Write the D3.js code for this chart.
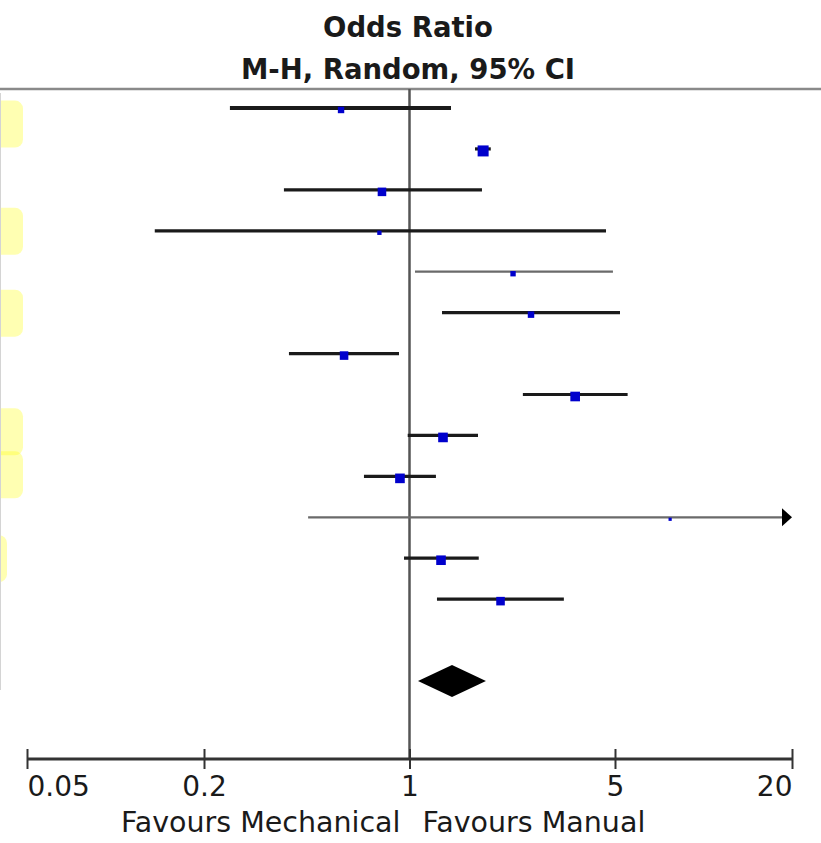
<!DOCTYPE html>
<html>
<head>
<meta charset="utf-8">
<script src="https://cdn.jsdelivr.net/npm/d3@7"></script>
<style>
  html, body { margin: 0; padding: 0; background: #fff; }
  svg { display: block; }
  text { font-family: "DejaVu Sans", Verdana, sans-serif; fill: #1a1a1a; }
</style>
</head>
<body>
<svg id="forest" width="821" height="843"></svg>
<script>
// study rows (odds ratio, 95% CI, weight %)
const orValues = [0.585, 1.78, 0.806, 0.79, 2.25, 2.59, 0.599, 3.66, 1.30, 0.928, 7.7, 1.28, 2.04];
const ciLower  = [0.245, 1.67, 0.374, 0.136, 1.044, 1.29, 0.389, 2.43, 0.986, 0.70, 0.452, 0.958, 1.24];
const ciUpper  = [1.384, 1.89, 1.764, 4.66, 4.92, 5.2, 0.921, 5.52, 1.71, 1.23, 60, 1.72, 3.35];
const weights  = [4.8, 14.2, 8.6, 2.2, 3.4, 4.9, 8.6, 10.9, 10.9, 10.9, 1.2, 10.8, 8.6];

// pooled estimate
const pooled = { or: 1.395, lo: 1.069, hi: 1.82 };

const tickValues = [0.05, 0.2, 1, 5, 20];
const tickLabels = ['0.05', '0.2', '1', '5', '20'];
const highlightRows = [0.38, 3, 5, 7.9, 8.95, 11];

const svg = d3.select('svg#forest');
const W = 821;

const x = d3.scaleLog().domain([0.05, 20]).range([27, 792]);
const y = d3.scaleLinear().domain([0, 14]).range([108, 681]);
const side = d3.scaleSqrt().domain([0, d3.max(weights)]).range([0, 11]);

const axisY = 759;
const topY = 89;

// yellow highlights at the left edge
svg.append('g')
  .selectAll('rect')
  .data(highlightRows)
  .enter()
  .append('rect')
  .attr('x', -10)
  .attr('y', d => y(d) - 23)
  .attr('width', (d, i) => i === highlightRows.length - 1 ? 17 : 33)
  .attr('height', 47)
  .attr('rx', 8)
  .attr('fill', '#ffff00')
  .attr('opacity', 0.3);

svg.append('line')
  .attr('x1', 0.5).attr('x2', 0.5)
  .attr('y1', topY + 4).attr('y2', 690)
  .attr('stroke', '#d4d4d4')
  .attr('stroke-width', 1);

// titles
svg.append('text')
  .attr('x', 408).attr('y', 37)
  .attr('text-anchor', 'middle')
  .attr('font-size', 27.5).attr('font-weight', 'bold')
  .text('Odds Ratio');
svg.append('text')
  .attr('x', 408).attr('y', 79)
  .attr('text-anchor', 'middle')
  .attr('font-size', 27.5).attr('font-weight', 'bold')
  .text('M-H, Random, 95% CI');

// header rule
svg.append('line')
  .attr('x1', 0).attr('x2', W)
  .attr('y1', topY).attr('y2', topY)
  .attr('stroke', '#8a8a8a')
  .attr('stroke-width', 2.5);

// line of no effect
svg.append('line')
  .attr('x1', x(1)).attr('x2', x(1))
  .attr('y1', topY).attr('y2', axisY)
  .attr('stroke', '#555')
  .attr('stroke-width', 2.5);

const rows = orValues.map((v, i) => ({
  i, or: v, lo: ciLower[i], hi: ciUpper[i], w: weights[i]
}));
const xMax = x.domain()[1];

// confidence intervals
svg.append('g')
  .selectAll('line')
  .data(rows)
  .enter()
  .append('line')
  .attr('x1', d => x(Math.max(d.lo, x.domain()[0])))
  .attr('x2', d => d.hi > xMax ? x(xMax) - 8 : x(d.hi))
  .attr('y1', d => y(d.i))
  .attr('y2', d => y(d.i))
  .attr('stroke', d => (d.i === 4 || d.i === 10) ? '#6a6a6a' : '#1a1a1a')
  .attr('stroke-width', d => d.i === 0 ? 4 : (d.i === 4 || d.i === 10) ? 2.2 : 3.2);

// arrow where CI runs off the scale
svg.append('g')
  .selectAll('path')
  .data(rows.filter(d => d.hi > xMax))
  .enter()
  .append('path')
  .attr('d', d => {
    const tx = x(xMax), ty = y(d.i);
    return `M${tx},${ty} L${tx - 10},${ty - 9} L${tx - 10},${ty + 9} Z`;
  })
  .attr('fill', '#000');

// point estimates
svg.append('g')
  .selectAll('rect')
  .data(rows)
  .enter()
  .append('rect')
  .attr('x', d => x(d.or) - side(d.w) / 2)
  .attr('y', d => y(d.i) + 2 - side(d.w) / 2)
  .attr('width', d => side(d.w))
  .attr('height', d => side(d.w))
  .attr('fill', '#0000cc');

// pooled diamond
const dy = y(14);
svg.append('path')
  .attr('d', `M${x(pooled.lo)},${dy} L${x(pooled.or)},${dy - 16} L${x(pooled.hi)},${dy} L${x(pooled.or)},${dy + 16} Z`)
  .attr('fill', '#000');

// x axis
const axis = d3.axisBottom(x)
  .tickValues(tickValues)
  .tickFormat((d, i) => tickLabels[i])
  .tickSize(10)
  .tickPadding(8);

const gAxis = svg.append('g')
  .attr('transform', `translate(0,${axisY})`)
  .call(axis);

gAxis.select('.domain')
  .attr('d', `M${x(0.05)},0H${x(20)}`)
  .attr('stroke', '#333')
  .attr('stroke-width', 3);
gAxis.selectAll('.tick line')
  .attr('y1', -10).attr('y2', 10)
  .attr('stroke', '#333')
  .attr('stroke-width', 2);
gAxis.selectAll('.tick text')
  .attr('font-size', 28)
  .attr('font-family', '"DejaVu Sans", Verdana, sans-serif')
  .attr('fill', '#1a1a1a')
  .attr('y', 17)
  .attr('dy', '0.71em')
  .attr('text-anchor', (d, i) => i === 0 ? 'start' : i === tickValues.length - 1 ? 'end' : 'middle');

// favours labels
svg.append('text')
  .attr('x', x(1) - 9).attr('y', 832)
  .attr('text-anchor', 'end')
  .attr('font-size', 28.5)
  .text('Favours Mechanical');
svg.append('text')
  .attr('x', x(1) + 13).attr('y', 832)
  .attr('text-anchor', 'start')
  .attr('font-size', 28.5)
  .text('Favours Manual');
</script>
</body>
</html>
